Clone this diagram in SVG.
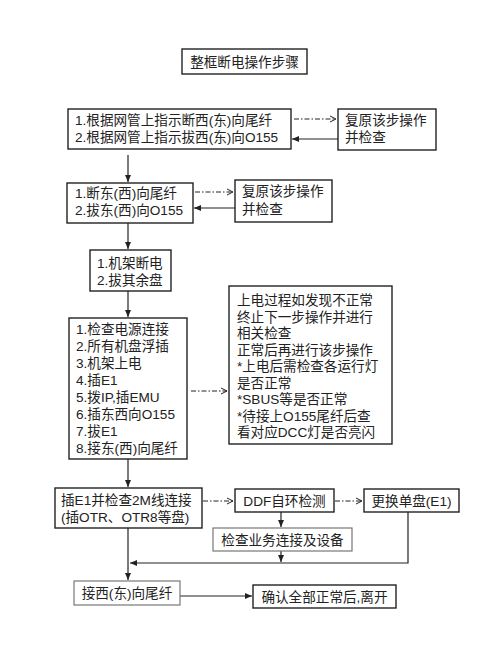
<svg xmlns="http://www.w3.org/2000/svg" width="500" height="666" viewBox="0 0 500 666">
<defs>
<style>
.b{fill:#fff;stroke:#222;stroke-width:1.4}
.g{fill:#fff;stroke:#777;stroke-width:1.2}
text{font-family:"Liberation Sans","Noto Sans CJK SC",sans-serif;font-size:13.6px;fill:#222}
.s{fill:none;stroke:#222;stroke-width:1.2}
.d{fill:none;stroke:#222;stroke-width:1;stroke-dasharray:5 2 1.5 2}
</style>
<marker id="af" markerWidth="8" markerHeight="8" refX="7" refY="4" orient="auto" markerUnits="userSpaceOnUse">
<path d="M0,1 L7,4 L0,7 Z" fill="#222"/>
</marker>
<marker id="ao" markerWidth="8" markerHeight="8" refX="7" refY="4" orient="auto" markerUnits="userSpaceOnUse">
<path d="M1,1 L7,4 L1,7" fill="none" stroke="#222" stroke-width="1"/>
</marker>
</defs>
<rect width="500" height="666" fill="#fff"/>
<g id="connectors">
<line class="d" x1="294" y1="119" x2="336" y2="119" marker-end="url(#ao)"/>
<line class="s" x1="338" y1="139" x2="292" y2="139" marker-end="url(#af)"/>
<line class="s" x1="128" y1="155" x2="128" y2="182" marker-end="url(#af)"/>
<line class="d" x1="195" y1="192" x2="233" y2="192" marker-end="url(#ao)"/>
<line class="s" x1="235" y1="208" x2="194" y2="208" marker-end="url(#af)"/>
<line class="s" x1="128" y1="223" x2="128" y2="249" marker-end="url(#af)"/>
<line class="s" x1="128" y1="291" x2="128" y2="317" marker-end="url(#af)"/>
<line class="d" x1="191" y1="391" x2="227" y2="391" marker-end="url(#ao)"/>
<line class="s" x1="128" y1="459" x2="128" y2="487" marker-end="url(#af)"/>
<line class="d" x1="203" y1="501" x2="233" y2="501" marker-end="url(#ao)"/>
<line class="d" x1="335" y1="501" x2="362" y2="501" marker-end="url(#ao)"/>
<line class="s" x1="281" y1="512" x2="281" y2="527" marker-end="url(#af)"/>
<line class="s" x1="281" y1="551" x2="281" y2="562" marker-end="url(#af)"/>
<polyline class="s" points="408,512 408,563 130,563" marker-end="url(#af)"/>
<line class="s" x1="128" y1="528" x2="128" y2="580" marker-end="url(#af)"/>
<line class="s" x1="180" y1="596" x2="252" y2="596" marker-end="url(#af)"/>
</g>
<g id="title">
<rect class="b" x="182" y="49" width="125" height="25"/>
<text x="244.5" y="67" text-anchor="middle">整框断电操作步骤</text>
</g>
<g id="step1">
<rect class="b" x="68" y="109" width="223" height="40"/>
<text x="75" y="125">1.根据网管上指示断西(东)向尾纤</text>
<text x="75" y="142">2.根据网管上指示拔西(东)向O155</text>
</g>
<g id="restore1">
<rect class="b" x="338" y="109" width="98" height="41"/>
<text x="345" y="125">复原该步操作</text>
<text x="345" y="142">并检查</text>
</g>
<g id="step2">
<rect class="b" x="67" y="183" width="126" height="40"/>
<text x="75" y="198">1.断东(西)向尾纤</text>
<text x="75" y="215">2.拔东(西)向O155</text>
</g>
<g id="restore2">
<rect class="b" x="235" y="180" width="97" height="42"/>
<text x="242" y="196">复原该步操作</text>
<text x="242" y="214">并检查</text>
</g>
<g id="step3">
<rect class="b" x="90" y="250" width="81" height="41"/>
<text x="97" y="268">1.机架断电</text>
<text x="97" y="285">2.拔其余盘</text>
</g>
<g id="step4">
<rect class="b" x="69" y="318" width="118" height="141"/>
<text x="76" y="334">1.检查电源连接</text>
<text x="76" y="351">2.所有机盘浮插</text>
<text x="76" y="368">3.机架上电</text>
<text x="76" y="385">4.插E1</text>
<text x="76" y="402">5.拨IP,插EMU</text>
<text x="76" y="419">6.插东西向O155</text>
<text x="76" y="436">7.拔E1</text>
<text x="76" y="453">8.接东(西)向尾纤</text>
</g>
<g id="note">
<rect class="b" x="229" y="286" width="163" height="158"/>
<text x="237" y="305">上电过程如发现不正常</text>
<text x="237" y="321.5">终止下一步操作并进行</text>
<text x="237" y="338">相关检查</text>
<text x="237" y="354.5">正常后再进行该步操作</text>
<text x="237" y="371">*上电后需检查各运行灯</text>
<text x="237" y="387.5">是否正常</text>
<text x="237" y="404">*SBUS等是否正常</text>
<text x="237" y="420.5">*待接上O155尾纤后查</text>
<text x="237" y="437">看对应DCC灯是否亮闪</text>
</g>
<g id="step5">
<rect class="b" x="55" y="488" width="147" height="40"/>
<text x="61" y="505">插E1并检查2M线连接</text>
<text x="61" y="522">(插OTR、OTR8等盘)</text>
</g>
<g id="ddf">
<rect class="b" x="235" y="489" width="99" height="23"/>
<text x="284.5" y="506" text-anchor="middle">DDF自环检测</text>
</g>
<g id="replace">
<rect class="b" x="364" y="489" width="95" height="23"/>
<text x="411.5" y="506" text-anchor="middle">更换单盘(E1)</text>
</g>
<g id="checkbiz">
<rect class="g" x="213" y="528" width="139" height="23"/>
<text x="282.5" y="545" text-anchor="middle">检查业务连接及设备</text>
</g>
<g id="step6">
<rect class="g" x="74" y="581" width="106" height="24"/>
<text x="127" y="598" text-anchor="middle">接西(东)向尾纤</text>
</g>
<g id="final">
<rect class="b" x="253" y="585" width="143" height="23"/>
<text x="324.5" y="602" text-anchor="middle">确认全部正常后,离开</text>
</g>
</svg>
